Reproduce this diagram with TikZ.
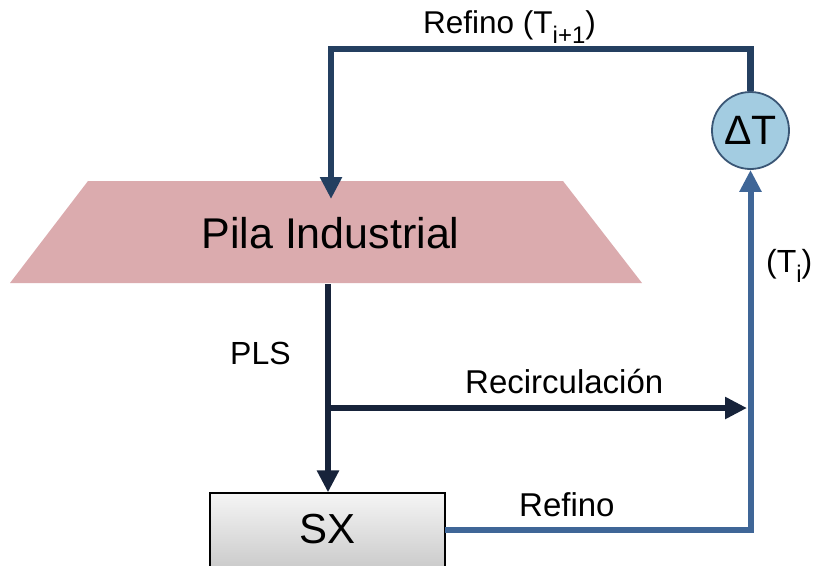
\documentclass[tikz,border=0pt]{standalone}
\usepackage{fontspec}
\setmainfont{Liberation Sans}
\usetikzlibrary{arrows.meta}
\definecolor{navy}{HTML}{243F60}
\definecolor{darknavy}{HTML}{17233A}
\definecolor{flowblue}{HTML}{3F6697}
\definecolor{pilapink}{HTML}{DBABAE}
\definecolor{circfill}{HTML}{A3CCE1}
\definecolor{circedge}{HTML}{3A5675}
\newcommand{\sbs}[1]{\raisebox{-0.32em}{\fontsize{24}{24}\selectfont #1}}
\begin{document}
\begin{tikzpicture}[x=1pt,y=-1pt,
  flow/.style={line width=6.5pt},
  tip/.style={-{Triangle[length=22pt,width=21pt]}},
  lbl/.style={inner sep=0pt, anchor=base west, font=\fontsize{33}{36}\selectfont},
  pilabox/.style={inner sep=0pt, minimum width=475pt, minimum height=102pt, font=\fontsize{43}{46}\selectfont},
  sxbox/.style={draw=black, line width=1.2pt, top color=white!96!black, bottom color=white!72!black,
    inner sep=0pt, minimum width=235pt, text height=50pt, text depth=60pt, font=\fontsize{42}{44}\selectfont},
  dtnode/.style={circle, draw=circedge, line width=1.8pt, fill=circfill, minimum size=77pt, inner sep=0pt,
    font=\fontsize{41}{43}\selectfont}
]
\useasboundingbox (0,0) rectangle (814,565);
\clip (0,0) rectangle (814,565);

% Pila industrial trapezoid
\fill[pilapink] (88,181) -- (563,181) -- (642,283) -- (10,283) -- cycle;
\node[pilabox] (pila) at (330.5,233) {Pila Industrial};

% SX box
\node[sxbox, anchor=base] (sx) at (327.5,543) {SX};

% Delta T
\node[dtnode] (dt) at (750.5,130.5) {ΔT};

% coordinates
\coordinate (pilain) at (331,199);
\coordinate (jn) at (328,408);
\coordinate (rj) at (750,408);
\coordinate (sxout) at (445,529.5);

% Refino (T_{i+1}) loop
\draw[flow, navy, tip, line join=miter] (dt.north) |- (pilain |- 0,49) -- (pilain);

% PLS
\draw[flow, darknavy, tip] (pila.south -| jn) -- (sx.north -| jn);
\draw[flow, darknavy, tip, shorten >=3pt] (jn) -- (rj);

% Refino from SX
\draw[flow, line width=6pt, flowblue, tip, line join=miter] (sxout) -| (dt.south);

% labels
\node[lbl, font=\fontsize{31.5}{34}\selectfont] (l1) at (423,33) {Refino (T\sbs{i+1})};
\node[lbl, font=\fontsize{32}{36}\selectfont] (l2) at (766,272) {(T\sbs{i})};
\node[lbl, font=\fontsize{32}{34}\selectfont] (l3) at (230,364) {PLS};
\node[lbl] (l4) at (465,393) {Recirculación};
\node[lbl] (l5) at (519,516) {Refino};
\end{tikzpicture}
\end{document}
